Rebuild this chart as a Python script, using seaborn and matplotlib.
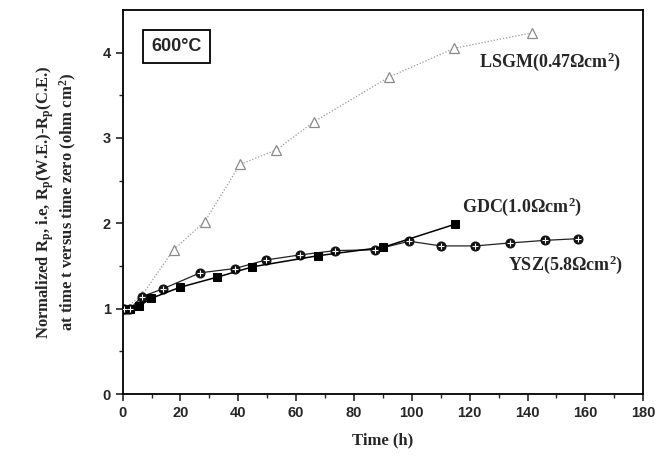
import numpy as np
import pandas as pd
import matplotlib
matplotlib.use("Agg")
import matplotlib.pyplot as plt
import seaborn as sns

# ---- data ----
lsgm_t = [0.6, 6.6, 17.6, 28.4, 40.6, 53.2, 66.2, 92.0, 114.7, 141.4]
lsgm_v = [1.00, 1.15, 1.69, 2.02, 2.69, 2.86, 3.19, 3.71, 4.05, 4.23]

gdc_t = [0.6, 2.6, 5.7, 9.8, 19.8, 32.8, 44.9, 67.5, 90.2, 115.0]
gdc_v = [1.00, 1.00, 1.03, 1.12, 1.25, 1.37, 1.49, 1.62, 1.72, 1.99]

ysz_t = [0.6, 2.6, 6.6, 13.8, 26.8, 38.8, 49.5, 61.4, 73.5, 87.2, 99.1, 110.0, 122.0, 134.0, 146.0, 157.5]
ysz_v = [1.00, 1.00, 1.14, 1.23, 1.42, 1.47, 1.57, 1.63, 1.68, 1.69, 1.79, 1.735, 1.735, 1.77, 1.80, 1.82]

x_ticks = [0, 20, 40, 60, 80, 100, 120, 140, 160, 180]
y_ticks = [0, 1, 2, 3, 4]

sns.set_theme(style="white")
plt.rcParams["font.family"] = ["Liberation Sans", "DejaVu Sans"]
plt.rcParams["mathtext.fontset"] = "custom"
plt.rcParams["mathtext.rm"] = "Liberation Serif:bold"
plt.rcParams["mathtext.it"] = "Liberation Serif:bold"
plt.rcParams["mathtext.bf"] = "Liberation Serif:bold"
plt.rcParams["mathtext.default"] = "rm"

fig = plt.figure(figsize=(6.7, 4.68), dpi=100)
ax = fig.add_axes([0.183, 0.158, 0.777, 0.821])

df_l = pd.DataFrame({"t": lsgm_t, "v": lsgm_v})
df_g = pd.DataFrame({"t": gdc_t, "v": gdc_v})
df_y = pd.DataFrame({"t": ysz_t, "v": ysz_v})

sns.lineplot(data=df_l, x="t", y="v", ax=ax, sort=False, estimator=None,
             color="#9a9a9a", linestyle=(0, (1, 1.5)), linewidth=0.9,
             marker="^", markersize=6.5, markerfacecolor="white",
             markeredgecolor="#8a8a8a", markeredgewidth=0.9)
sns.lineplot(data=df_y, x="t", y="v", ax=ax, sort=False, estimator=None,
             color="#222222", linewidth=0.9,
             marker="o", markersize=6.5, markerfacecolor="#111111",
             markeredgecolor="#111111")
sns.scatterplot(data=df_y, x="t", y="v", ax=ax, marker="+", s=18,
                color="white", linewidth=0.8, zorder=5)
sns.lineplot(data=df_g, x="t", y="v", ax=ax, sort=False, estimator=None,
             color="black", linewidth=1.1,
             marker="s", markersize=6, markerfacecolor="black",
             markeredgecolor="black")

ax.set_xlim(0, 180)
ax.set_ylim(0, 4.5)
ax.set_xticks(x_ticks)
ax.set_yticks(y_ticks)
ax.set_xticks(np.arange(10, 180, 20), minor=True)
ax.set_yticks(np.arange(0.5, 4.5, 1.0), minor=True)
ax.tick_params(axis="both", which="major", direction="out", length=5, width=1.2,
               labelsize=10.5, bottom=True, left=True, top=False, right=False)
ax.tick_params(axis="both", which="minor", direction="out", length=3, width=1,
               bottom=True, left=True)
for lab in ax.get_xticklabels() + ax.get_yticklabels():
    lab.set_fontweight("bold")
for sp in ax.spines.values():
    sp.set_color("black")
    sp.set_linewidth(1.3)

serif = ["Liberation Serif", "DejaVu Serif"]
ax.set_xlabel("Time (h)", family=serif, fontweight="bold", fontsize=12, labelpad=9)
ax.set_ylabel("Normalized R$_p$, i.e, R$_p$(W.E.)-R$_p$(C.E.)\nat time t versus time zero (ohm cm$^2$)",
              family=serif, fontweight="bold", fontsize=12, labelpad=17, linespacing=1.1)

ax.text(0.055, 0.905, "600°C", transform=ax.transAxes, fontsize=13,
        fontweight="bold", va="center", ha="left",
        bbox=dict(boxstyle="square,pad=0.45", facecolor="white", edgecolor="black", linewidth=1.3))

ax.text(147.8, 3.89, "LSGM(0.47Ωcm$^2$)", family=serif, fontweight="bold", fontsize=13, ha="center", va="center")
ax.text(138.1, 2.19, "GDC(1.0Ωcm$^2$)", family=serif, fontweight="bold", fontsize=13, ha="center", va="center")
ax.text(153.3, 1.51, "YSZ(5.8Ωcm$^2$)", family=serif, fontweight="bold", fontsize=13, ha="center", va="center")

fig.savefig("out.png", dpi=100)
